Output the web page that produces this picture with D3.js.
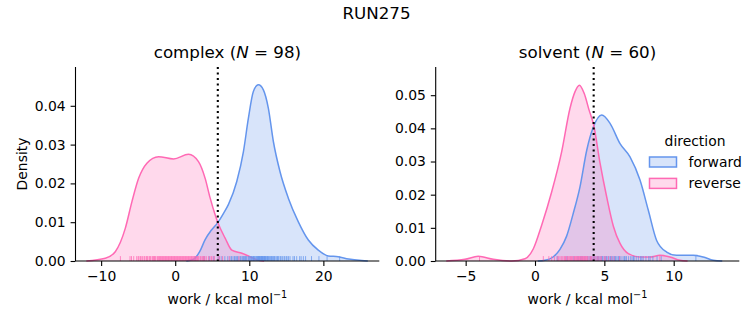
<!DOCTYPE html>
<html>
<head>
<meta charset="utf-8">
<script src="https://cdn.jsdelivr.net/npm/d3@7"></script>
<style>
  body { margin: 0; background: #fff; }
  text { font-family: "DejaVu Sans", sans-serif; fill: #000; }
</style>
</head>
<body>
<div id="chart"></div>
<script>
var runName = "RUN275";
var directions = ["forward", "reverse"];
var colors = { forward: "#6495ed", reverse: "#ff69b4" };

// complex leg: kde curves as [work, density], plus the raw works for the rug
var complexN = 98;
var complexCut = 5.75;
var complexForwardKde = [[1.5, 0], [2.5, 0.0005], [3.3, 0.0024], [4.04, 0.0055], [4.9, 0.008], [5.75, 0.0099],
  [6.5, 0.0122], [7.19, 0.0146], [8.31, 0.0205], [9.21, 0.0282], [9.88, 0.0368], [10.55, 0.0437],
  [11.23, 0.0454], [11.9, 0.0441], [12.57, 0.0394], [13.25, 0.0308], [14.15, 0.023], [15.27, 0.0162],
  [16.62, 0.0101], [17.97, 0.0054], [19.31, 0.0028], [20.66, 0.0013], [22.0, 0.0011], [23.4, 0.0005],
  [25.2, 0.0001], [26.0, 0]];
var complexReverseKde = [[-12.0, 0], [-9.43, 0.0007], [-8.09, 0.0024], [-6.74, 0.0084], [-5.84, 0.0153],
  [-4.94, 0.0213], [-3.82, 0.0252], [-2.25, 0.0269], [-0.22, 0.0263], [1.8, 0.0275], [3.14, 0.0256],
  [4.04, 0.0213], [4.72, 0.0162], [5.39, 0.0119], [5.75, 0.0099], [6.74, 0.0059], [7.64, 0.0028],
  [8.99, 0.002], [10.1, 0.0011], [11.0, 0.0003], [12.0, 0]];
var complexForwardWork = [2.7, 3.9, 4.6, 5.2, 5.8, 6.3, 6.7, 7.1, 7.4, 7.8, 8.1, 8.4, 8.6, 8.9, 9.1, 9.3, 9.5,
  9.7, 9.9, 10.0, 10.2, 10.3, 10.5, 10.6, 10.7, 10.9, 11.0, 11.1, 11.2, 11.3, 11.4, 11.5, 11.6, 11.7, 11.8,
  11.9, 12.0, 12.1, 12.2, 12.3, 12.5, 12.6, 12.8, 12.9, 13.1, 13.3, 13.5, 13.7, 13.9, 14.2, 14.5, 14.8, 15.1,
  15.5, 15.9, 16.4, 17.0, 17.6, 18.4, 19.4, 22.2, 6.0, 7.6, 8.3, 8.8, 9.2, 9.6, 10.1, 10.4, 10.8, 11.05,
  11.25, 11.45, 11.65, 11.85, 12.05, 12.4, 12.7, 13.0, 13.4, 13.8, 14.0, 14.3, 14.7, 15.3, 16.1, 16.8, 9.4,
  10.55, 11.35, 11.75, 12.15, 12.45, 13.2, 15.0, 17.3, 20.5, 8.0];
var complexReverseWork = [-7.4, -6.1, -5.6, -5.2, -4.9, -4.6, -4.4, -4.1, -3.9, -3.7, -3.5, -3.3, -3.1, -2.9,
  -2.8, -2.6, -2.4, -2.3, -2.1, -1.9, -1.8, -1.6, -1.5, -1.3, -1.2, -1.0, -0.9, -0.7, -0.6, -0.4, -0.3, -0.1,
  0.0, 0.2, 0.3, 0.5, 0.6, 0.8, 0.9, 1.1, 1.2, 1.4, 1.5, 1.7, 1.8, 2.0, 2.1, 2.3, 2.5, 2.6, 2.8, 3.0, 3.2, 3.4,
  3.7, 3.9, 4.2, 4.5, 4.9, 5.3, 5.8, 6.4, 7.3, 8.6, -5.9, -5.0, -4.7, -4.2, -3.8, -3.4, -3.0, -2.7, -2.2, -2.0,
  -1.7, -1.4, -1.1, -0.8, -0.5, -0.2, 0.1, 0.4, 0.7, 1.0, 1.3, 1.6, 1.9, 2.2, 2.4, 2.7, 2.9, 3.1, 3.5, 3.8,
  4.0, 4.7, 5.1, 6.0];

// solvent leg
var solventN = 60;
var solventCut = 4.23;
var solventForwardKde = [[0.2, 0], [0.72, 0.0002], [1.3, 0.0012], [1.8, 0.0035], [2.28, 0.0075], [2.76, 0.0144],
  [3.24, 0.0223], [3.73, 0.0334], [4.2, 0.0403], [4.81, 0.044], [5.41, 0.0415], [6.13, 0.0354], [6.85, 0.0314],
  [7.57, 0.0244], [8.17, 0.0153], [8.77, 0.0062], [9.49, 0.0027], [10.2, 0.0017], [11.41, 0.0017],
  [12.13, 0.0012], [12.86, 0.0002], [13.5, 0]];
var solventReverseKde = [[-6.4, 0], [-5.05, 0.0005], [-4.09, 0.0014], [-3.0, 0.0005], [-1.68, 0], [-0.72, 0.0007],
  [-0.12, 0.0037], [0.48, 0.0108], [1.2, 0.0208], [1.92, 0.0329], [2.52, 0.046], [2.88, 0.051], [3.2, 0.053],
  [3.55, 0.0505], [3.9, 0.0455], [4.23, 0.041], [4.69, 0.0295], [5.17, 0.0193], [5.65, 0.0105], [6.13, 0.0053],
  [6.73, 0.0022], [7.57, 0.0012], [8.29, 0.0012], [9.01, 0.0017], [9.73, 0.0012], [10.45, 0.0002], [11.0, 0]];
var solventForwardWork = [1.6, 2.3, 2.8, 3.1, 3.4, 3.6, 3.8, 4.0, 4.1, 4.2, 4.3, 4.4, 4.5, 4.6, 4.7, 4.8, 4.9,
  5.0, 5.1, 5.2, 5.3, 5.4, 5.5, 5.6, 5.7, 5.8, 5.9, 6.0, 6.1, 6.2, 6.35, 6.5, 6.6, 6.75, 6.9, 7.0, 7.15, 7.3,
  7.45, 7.6, 7.8, 8.0, 8.2, 8.5, 8.8, 9.1, 11.6, 3.3, 3.9, 4.25, 4.55, 4.85, 5.15, 5.45, 5.75, 6.05, 6.45, 7.1,
  7.7, 8.3];
var solventReverseWork = [-4.0, 0.6, 1.0, 1.2, 1.4, 1.6, 1.7, 1.9, 2.0, 2.1, 2.2, 2.3, 2.4, 2.5, 2.6, 2.65, 2.7,
  2.8, 2.85, 2.9, 3.0, 3.05, 3.1, 3.15, 3.2, 3.25, 3.3, 3.35, 3.4, 3.45, 3.5, 3.55, 3.6, 3.7, 3.75, 3.8, 3.9,
  4.0, 4.1, 4.2, 4.3, 4.4, 4.5, 4.6, 4.7, 4.8, 5.0, 5.1, 5.3, 5.5, 5.7, 2.15, 2.55, 2.95, 3.65, 1.8, 2.35, 4.05,
  6.1, 9.0];

var complexXTicks = [-10, 0, 10, 20];
var complexYTicks = [0, 0.01, 0.02, 0.03, 0.04];
var solventXTicks = [-5, 0, 5, 10];
var solventYTicks = [0, 0.01, 0.02, 0.03, 0.04, 0.05];

var width = 753, height = 325;
var plotTop = 67, plotBottom = 261;

var svg = d3.select("#chart").append("svg")
  .attr("width", width)
  .attr("height", height);

svg.append("rect").attr("width", width).attr("height", height).attr("fill", "#fff");

svg.append("text")
  .attr("x", 376.5).attr("y", 19)
  .attr("text-anchor", "middle")
  .style("font-size", "16.7px")
  .text(runName);

var panels = [
  { name: "complex", n: complexN, cut: complexCut, left: 75.5, right: 379.3,
    xDomain: [-13.46, 27.55], yMax: 0.05, xTicks: complexXTicks, yTicks: complexYTicks,
    kde: { forward: complexForwardKde, reverse: complexReverseKde },
    work: { forward: complexForwardWork, reverse: complexReverseWork }, ylabel: true, legend: false },
  { name: "solvent", n: solventN, cut: solventCut, left: 435.7, right: 739.3,
    xDomain: [-7.16, 14.73], yMax: 0.0585, xTicks: solventXTicks, yTicks: solventYTicks,
    kde: { forward: solventForwardKde, reverse: solventReverseKde },
    work: { forward: solventForwardWork, reverse: solventReverseWork }, ylabel: false, legend: true }
];

panels.forEach(function(p) {
  var x = d3.scaleLinear().domain(p.xDomain).range([p.left, p.right]);
  var y = d3.scaleLinear().domain([0, p.yMax]).range([plotBottom, plotTop]);
  var g = svg.append("g");

  var area = d3.area()
    .x(d => x(d[0]))
    .y0(y(0))
    .y1(d => y(d[1]))
    .curve(d3.curveMonotoneX);
  var line = d3.line()
    .x(d => x(d[0]))
    .y(d => y(d[1]))
    .curve(d3.curveMonotoneX);

  directions.forEach(function(dir) {
    g.append("path")
      .attr("d", area(p.kde[dir]))
      .attr("fill", colors[dir])
      .attr("fill-opacity", 0.25);
  });
  directions.forEach(function(dir) {
    g.append("path")
      .attr("d", line(p.kde[dir]))
      .attr("fill", "none")
      .attr("stroke", colors[dir])
      .attr("stroke-width", 1.5);
  });

  // rug along the bottom
  directions.forEach(function(dir) {
    g.selectAll(null)
      .data(p.work[dir])
      .enter().append("line")
      .attr("x1", d => x(d)).attr("x2", d => x(d))
      .attr("y1", plotBottom).attr("y2", plotBottom - 4.9)
      .attr("stroke", colors[dir])
      .attr("stroke-opacity", 0.75)
      .attr("stroke-width", 1);
  });

  // cut line
  g.append("line")
    .attr("x1", x(p.cut)).attr("x2", x(p.cut))
    .attr("y1", plotTop).attr("y2", plotBottom)
    .attr("stroke", "#000")
    .attr("stroke-width", 2.1)
    .attr("stroke-dasharray", "2.1,3.4");

  // axes
  var xAxis = g.append("g")
    .attr("transform", `translate(0,${plotBottom})`)
    .call(d3.axisBottom(x).tickValues(p.xTicks).tickSize(4.9).tickPadding(4.9)
      .tickFormat(d => d3.format("d")(d).replace("-", "\u2212")));
  var yAxis = g.append("g")
    .attr("transform", `translate(${p.left},0)`)
    .call(d3.axisLeft(y).tickValues(p.yTicks).tickSize(4.9).tickPadding(4.9).tickFormat(d3.format(".2f")));

  [xAxis, yAxis].forEach(function(a) {
    a.select(".domain").remove();
    a.selectAll(".tick line").attr("stroke-width", 1.1);
    a.selectAll(".tick text").style("font-size", "13.9px");
    a.attr("font-family", null).attr("font-size", null);
  });
  // spines drawn plain so they end at the axes box
  g.append("line").attr("x1", p.left).attr("x2", p.right).attr("y1", plotBottom).attr("y2", plotBottom)
    .attr("stroke", "#000").attr("stroke-width", 1.1);
  g.append("line").attr("x1", p.left).attr("x2", p.left).attr("y1", plotTop).attr("y2", plotBottom)
    .attr("stroke", "#000").attr("stroke-width", 1.1);

  // title with italic N
  var title = g.append("text")
    .attr("x", (p.left + p.right) / 2).attr("y", 58.3)
    .attr("text-anchor", "middle")
    .style("font-size", "16.7px");
  title.append("tspan").text(p.name + " (");
  title.append("tspan").style("font-style", "italic").text("N");
  title.append("tspan").text(" = " + p.n + ")");

  var xl = g.append("text")
    .attr("x", (p.left + p.right) / 2).attr("y", 303.5)
    .attr("text-anchor", "middle")
    .style("font-size", "13.9px");
  xl.append("tspan").text("work / kcal mol");
  xl.append("tspan").attr("dy", -5.5).style("font-size", "9.7px").text("\u22121");

  if (p.ylabel) {
    g.append("text")
      .attr("transform", `translate(27,${(plotTop + plotBottom) / 2}) rotate(-90)`)
      .attr("text-anchor", "middle")
      .style("font-size", "13.9px")
      .text("Density");
  }

  if (p.legend) {
    var lg = g.append("g");
    lg.append("text")
      .attr("x", 695).attr("y", 146)
      .attr("text-anchor", "middle")
      .style("font-size", "13.9px")
      .text("direction");
    directions.forEach(function(dir, i) {
      var yy = 157 + i * 21.4;
      lg.append("rect")
        .attr("x", 649.5).attr("y", yy)
        .attr("width", 27).attr("height", 10)
        .attr("fill", colors[dir]).attr("fill-opacity", 0.25)
        .attr("stroke", colors[dir]).attr("stroke-width", 1.5);
      lg.append("text")
        .attr("x", 688.5).attr("y", yy + 9.5)
        .style("font-size", "13.9px")
        .text(dir);
    });
  }
});
</script>
</body>
</html>
